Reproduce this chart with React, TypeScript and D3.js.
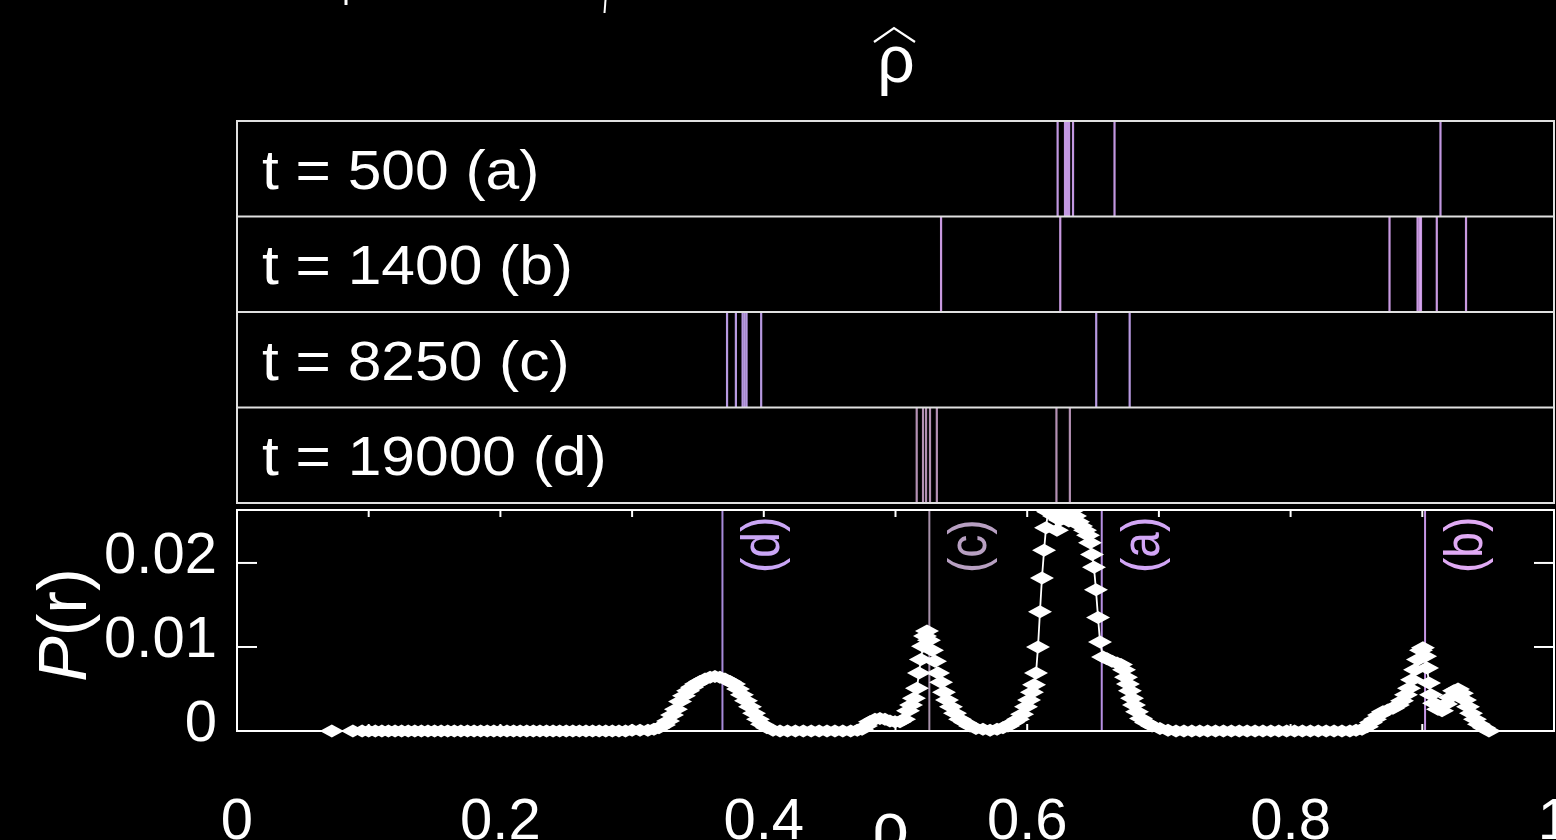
import React from 'react';
import * as d3 from 'd3';

// snapshot rows (top panels)
const rowLabels = ['t = 500 (a)', 't = 1400 (b)', 't = 8250 (c)', 't = 19000 (d)'];
const rowRho: number[][] = [
  [0.6231, 0.6287, 0.6302, 0.6318, 0.6348, 0.6663, 0.9138],
  [0.5346, 0.6251, 0.8751, 0.8964, 0.8979, 0.899, 0.911, 0.9332],
  [0.3721, 0.3788, 0.3839, 0.3854, 0.3869, 0.398, 0.6524, 0.6778],
  [0.5161, 0.5209, 0.5232, 0.5262, 0.5314, 0.6222, 0.6324],
];
const rowColors = ['#dcacff', '#e4aeff', '#d0aeff', '#cca4cc'];

// rho-hat markers in the lower plot
const markerLabels = ['(d)', '(c)', '(a)', '(b)'];
const markerRho = [0.3686, 0.5257, 0.6566, 0.9021];
const markerLineColors = ['#a88ada', '#a690aa', '#b890e4', '#c696e6'];
const markerTextColors = ['#caa6f6', '#b8a0c2', '#d2a6f6', '#e0aaf4'];

const xTicks = [0.1, 0.2, 0.3, 0.4, 0.5, 0.6, 0.7, 0.8, 0.9];
const xTickLabels = [0, 0.2, 0.4, 0.6, 0.8, 1];
const yTicks = [0, 0.01, 0.02];

// P(r): [rho, P]
const distribution: [number, number][] = [
  [0.072, 0], [0.088, 0],
  [0.095, 0], [0.1, 0], [0.105, 0], [0.11, 0], [0.115, 0], [0.12, 0], [0.125, 0], [0.13, 0],
  [0.135, 0], [0.14, 0], [0.145, 0], [0.15, 0], [0.155, 0], [0.16, 0], [0.165, 0], [0.17, 0],
  [0.175, 0], [0.18, 0], [0.185, 0], [0.19, 0], [0.195, 0], [0.2, 0], [0.205, 0], [0.21, 0],
  [0.215, 0], [0.22, 0], [0.225, 0], [0.23, 0], [0.235, 0], [0.24, 0], [0.245, 0], [0.25, 0],
  [0.255, 0], [0.26, 0], [0.265, 0], [0.27, 0], [0.275, 0], [0.28, 0], [0.285, 0], [0.29, 0],
  [0.295, 0], [0.3, 0.0001], [0.306, 0.0001],
  [0.312, 0.0001], [0.3166, 0.0002], [0.3204, 0.0004], [0.3242, 0.0007], [0.3273, 0.0012],
  [0.3303, 0.0019], [0.3333, 0.0026], [0.3364, 0.0035], [0.3394, 0.0042], [0.3425, 0.0048],
  [0.3455, 0.0052], [0.3485, 0.0056], [0.3516, 0.0059], [0.3554, 0.0062], [0.3592, 0.0064],
  [0.3629, 0.0065], [0.3667, 0.0064], [0.3705, 0.0062], [0.3743, 0.0059], [0.3774, 0.0056],
  [0.3804, 0.005], [0.3834, 0.0043], [0.3865, 0.0036], [0.3895, 0.0029], [0.3926, 0.0021],
  [0.3956, 0.0014], [0.3986, 0.0008], [0.4024, 0.0004], [0.407, 0.0001], [0.4123, 0],
  [0.418, 0], [0.424, 0], [0.43, 0], [0.436, 0], [0.442, 0], [0.448, 0], [0.454, 0],
  [0.46, 0], [0.466, 0], [0.471, 0.0001],
  [0.4746, 0.0002], [0.4776, 0.0006], [0.4806, 0.0011], [0.4844, 0.0014], [0.4882, 0.0015],
  [0.492, 0.0014], [0.4958, 0.0012], [0.4996, 0.0011], [0.5034, 0.0011], [0.5065, 0.0014],
  [0.5095, 0.0024], [0.5118, 0.0031], [0.514, 0.0039], [0.5163, 0.0051], [0.5178, 0.0069],
  [0.5193, 0.0085], [0.5209, 0.0101], [0.5224, 0.0113], [0.5239, 0.0119], [0.5254, 0.0108],
  [0.5277, 0.0096], [0.53, 0.0083], [0.5323, 0.0069], [0.5346, 0.0058], [0.5368, 0.0046],
  [0.5391, 0.0037], [0.5421, 0.0029], [0.5452, 0.0021], [0.549, 0.0014], [0.5528, 0.001],
  [0.5566, 0.0006], [0.5611, 0.0003], [0.5664, 0.0002], [0.5718, 0.0001], [0.5771, 0.0002],
  [0.5816, 0.0004], [0.5854, 0.0006], [0.5892, 0.001], [0.593, 0.0014], [0.5961, 0.002],
  [0.5991, 0.0029], [0.6014, 0.0037], [0.6036, 0.0046], [0.6052, 0.0055], [0.6067, 0.0069],
  [0.6082, 0.01], [0.6097, 0.0142], [0.6112, 0.0182], [0.6128, 0.0215], [0.6143, 0.0242],
  [0.6158, 0.0261], [0.6181, 0.0265], [0.6204, 0.0256], [0.6226, 0.0239], [0.6249, 0.0251],
  [0.6272, 0.0265], [0.6295, 0.0258], [0.6317, 0.025], [0.634, 0.0262], [0.6363, 0.0256],
  [0.6386, 0.0249], [0.6409, 0.0244], [0.6439, 0.0239], [0.6462, 0.0233], [0.6477, 0.0224],
  [0.6492, 0.021], [0.6507, 0.0195], [0.6522, 0.0168], [0.6538, 0.0135], [0.6553, 0.0106],
  [0.6576, 0.0088], [0.6606, 0.0086], [0.6644, 0.0083], [0.6682, 0.0081], [0.6712, 0.0079],
  [0.6735, 0.0073], [0.675, 0.0064], [0.6765, 0.0056], [0.678, 0.0048], [0.6796, 0.0039],
  [0.6811, 0.0031], [0.6834, 0.0023], [0.6864, 0.0015], [0.6902, 0.001], [0.6948, 0.0006],
  [0.7008, 0.0003], [0.7069, 0.0001], [0.713, 0],
  [0.719, 0], [0.725, 0], [0.731, 0], [0.737, 0], [0.743, 0], [0.749, 0], [0.755, 0],
  [0.761, 0], [0.767, 0], [0.773, 0], [0.779, 0], [0.785, 0], [0.791, 0], [0.797, 0],
  [0.803, 0], [0.809, 0], [0.815, 0], [0.821, 0], [0.827, 0], [0.833, 0], [0.839, 0],
  [0.845, 0], [0.8497, 0.0001],
  [0.8542, 0.0002], [0.858, 0.0005], [0.861, 0.001], [0.8641, 0.0014], [0.8671, 0.0019],
  [0.8701, 0.0023], [0.8739, 0.0025], [0.8777, 0.0027], [0.8815, 0.0031], [0.8846, 0.0036],
  [0.8876, 0.0043], [0.8899, 0.0051], [0.8922, 0.0061], [0.8945, 0.0073], [0.8967, 0.0085],
  [0.899, 0.0096], [0.9005, 0.0099], [0.9021, 0.0089], [0.9036, 0.0075], [0.9051, 0.0057],
  [0.9066, 0.0043], [0.9089, 0.0033], [0.9119, 0.0026], [0.915, 0.0024], [0.918, 0.0032],
  [0.921, 0.004], [0.9241, 0.0048], [0.9271, 0.005], [0.9301, 0.0045], [0.9324, 0.0037],
  [0.9347, 0.0029], [0.937, 0.0021], [0.94, 0.0014], [0.943, 0.0008], [0.9468, 0.0004],
  [0.9506, 0],
];

const W = 1556;
const H = 840;
const FONT = '"Liberation Sans", Arial, Helvetica, sans-serif';

const left = 237;
const right = 1554;
const panelTop = 121;
const panelBottom = 503;
const plotTop = 510;
const plotBottom = 731;

// gnuplot-ish filled diamond, wider than tall
const diamond = 'M-12,0L0,-6.5L12,0L0,6.5Z';

export default function App() {
  const x = d3.scaleLinear().domain([0, 1]).range([left, right]);
  const y = d3.scaleLinear().domain([0, 0.0263]).range([plotBottom, plotTop]);
  const rows = d3.scaleBand<number>().domain(d3.range(rowLabels.length)).range([panelTop, panelBottom]);

  const line = d3
    .line<[number, number]>()
    .x((d) => x(d[0]))
    .y((d) => y(d[1]));

  return (
    <svg
      width={W}
      height={H}
      style={{ position: 'absolute', left: 0, top: 0, background: '#000' }}
      fontFamily={FONT}
    >
      <rect width={W} height={H} fill="#000" />
      <defs>
        <clipPath id="plotclip">
          <rect x={left} y={plotTop} width={right - left} height={plotBottom - plotTop + 30} />
        </clipPath>
      </defs>

      {/* remnants of the cropped title */}
      <path d="M346,0V5" stroke="#fff" strokeWidth={3} />
      <path d="M605.5,0L604.5,13" stroke="#fff" strokeWidth={2} />

      {/* rho hat */}
      <text x={896} y={82} fontSize={66} fill="#fff" textAnchor="middle">ρ</text>
      <path d="M874,42L894,28L915,42" fill="none" stroke="#fff" strokeWidth={2.2} />

      {/* snapshot panels */}
      {rowLabels.map((lab, i) => {
        const y0 = rows(i) as number;
        const bh = rows.bandwidth();
        return (
          <g key={lab}>
            {rowRho[i].map((r, j) => (
              <line
                key={j}
                x1={x(r)}
                x2={x(r)}
                y1={y0}
                y2={y0 + bh}
                stroke={rowColors[i]}
                strokeWidth={2.2}
                strokeOpacity={0.88}
              />
            ))}
            <text
              transform={`translate(262,${y0 + bh / 2 + 20}) scale(1.1,1)`}
              fontSize={55}
              fill="#fff"
            >
              {lab}
            </text>
          </g>
        );
      })}
      <rect
        x={left}
        y={panelTop}
        width={right - left}
        height={panelBottom - panelTop}
        fill="none"
        stroke="#e0e0e0"
        strokeWidth={2}
      />
      {d3.range(1, rowLabels.length).map((i) => (
        <line
          key={i}
          x1={left}
          x2={right}
          y1={rows(i) as number}
          y2={rows(i) as number}
          stroke="#e0e0e0"
          strokeWidth={2}
        />
      ))}

      {/* lower plot */}
      {markerRho.map((r, i) => (
        <g key={markerLabels[i]}>
          <line x1={x(r)} x2={x(r)} y1={plotTop} y2={plotBottom} stroke={markerLineColors[i]} strokeWidth={2} />
          <text
            transform={`translate(${x(r) + 57},573) scale(1.16,1) rotate(-90)`}
            fontSize={46}
            fill={markerTextColors[i]}
          >
            {markerLabels[i]}
          </text>
        </g>
      ))}

      <g clipPath="url(#plotclip)">
        <path d={line(distribution) || ''} fill="none" stroke="#fff" strokeWidth={1.8} />
        {distribution.map((d, i) => (
          <path key={i} d={diamond} transform={`translate(${x(d[0])},${y(d[1])})`} fill="#fff" />
        ))}
      </g>

      <rect
        x={left}
        y={plotTop}
        width={right - left}
        height={plotBottom - plotTop}
        fill="none"
        stroke="#fff"
        strokeWidth={2}
      />
      {xTicks.map((t) => (
        <g key={t}>
          <line x1={x(t)} x2={x(t)} y1={plotTop} y2={plotTop + 7} stroke="#fff" strokeWidth={2} />
          <line x1={x(t)} x2={x(t)} y1={plotBottom} y2={plotBottom - 7} stroke="#fff" strokeWidth={2} />
        </g>
      ))}
      {yTicks.map((t) => (
        <g key={t}>
          <line x1={left} x2={left + 20} y1={y(t)} y2={y(t)} stroke="#fff" strokeWidth={2} />
          <line x1={right} x2={right - 20} y1={y(t)} y2={y(t)} stroke="#fff" strokeWidth={2} />
          <text x={217} y={y(t) + 10} fontSize={58} fill="#fff" textAnchor="end">
            {t === 0 ? '0' : d3.format('.2f')(t)}
          </text>
        </g>
      ))}
      {xTickLabels.map((t) => (
        <text key={t} x={x(t)} y={839} fontSize={58} fill="#fff" textAnchor="middle">
          {String(t)}
        </text>
      ))}

      <text transform="translate(86,625) rotate(-90)" fontSize={68} fill="#fff" textAnchor="middle">
        <tspan fontStyle="italic">P</tspan>(r)
      </text>
      <text x={890} y={849} fontSize={66} fill="#fff" textAnchor="middle">ρ</text>
    </svg>
  );
}
